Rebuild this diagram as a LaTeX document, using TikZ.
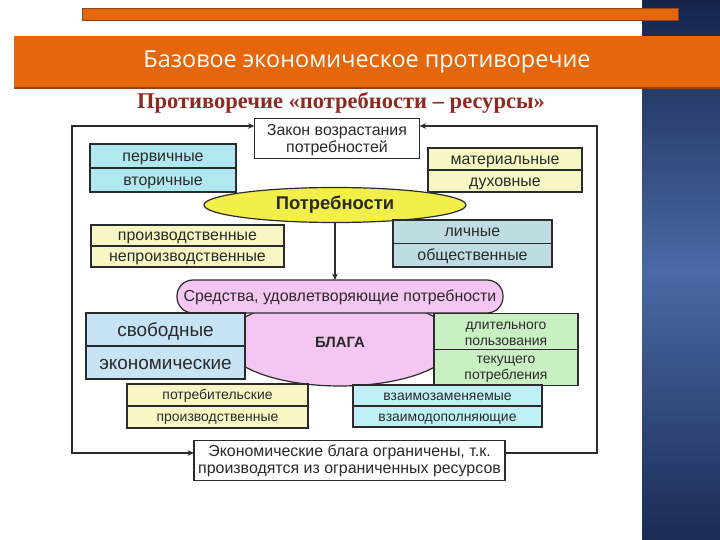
\documentclass[tikz,border=0pt]{standalone}
\usepackage{fontspec}
\setmainfont{Liberation Sans}
\newfontfamily\titlefont{Open Sans}
\newfontfamily\headfont{Liberation Serif}
\usetikzlibrary{positioning,shapes.geometric,arrows.meta}
\definecolor{lineclr}{HTML}{2B2B2B}
\definecolor{txt}{HTML}{2A2A2A}
\definecolor{orangeA}{HTML}{E5660B}
\definecolor{brownA}{HTML}{8F4416}
\definecolor{redhead}{HTML}{8E2A22}
\definecolor{navyA}{HTML}{16244A}
\definecolor{navyB}{HTML}{1B2C55}
\definecolor{blueB}{HTML}{4A69A6}
\definecolor{cyanA}{HTML}{B0E8F0}
\definecolor{yellowA}{HTML}{F8F6C4}
\definecolor{yellowB}{HTML}{F2EE4A}
\definecolor{tealA}{HTML}{BEDDE2}
\definecolor{pinkA}{HTML}{F5C6F2}
\definecolor{blueA}{HTML}{C6E4F6}
\definecolor{greenA}{HTML}{C9F0C2}
\definecolor{cyanB}{HTML}{BFF0F6}
\begin{document}
\begin{tikzpicture}[x=1bp,y=-1bp,
  >={Stealth[length=6.5bp,width=5.5bp]},
  cell/.style={draw=lineclr, line width=1.2bp, outer sep=0pt, inner sep=0pt,
    text=txt, font=\fontsize{16}{17}\selectfont, text height=11.5bp, text depth=1bp},
  two/.style={align=center, text height=, text depth=},
  small/.style={font=\fontsize{14}{16}\selectfont, text height=10.5bp, text depth=1.1bp},
  smalltwo/.style={font=\fontsize{14}{16}\selectfont, align=center, text height=27.5bp, text depth=},
  big/.style={font=\fontsize{19}{20}\selectfont, text height=15bp, text depth=1bp},
  oval/.style={ellipse, draw=lineclr, line width=1.2bp, inner sep=0pt, text=txt},
  wire/.style={draw=lineclr, line width=1.2bp}]
\useasboundingbox (0,0) rectangle (720,540);
\fill[white] (0,0) rectangle (720,540);
\shade[top color=navyA, bottom color=navyB, middle color=blueB] (642,0) rectangle (720,540);
% header bars
\draw[fill=orangeA, draw=brownA, line width=1bp] (82,9) rectangle (678,21);
\node[fill=orangeA, minimum width=706bp, minimum height=52bp, inner sep=0pt,
  text=white, font=\titlefont\fontsize{23.5}{25}\selectfont] (title) at (367,62)
  {Базовое экономическое противоречие};
\draw[brownA, line width=2bp] (title.south west) -- (title.south east);
\node[text=redhead, font=\headfont\bfseries\fontsize{22.6}{24}\selectfont] (head) at (341,103)
  {Противоречие «потребности – ресурсы»};
% needs
\node[cell, two, text height=32bp, fill=white, minimum width=165bp, minimum height=40bp] (zakon) at (337,138.5)
  {Закон возрастания\\потребностей};
\node[cell, fill=cyanA, minimum width=146bp, minimum height=24bp] (perv) at (163,156) {первичные};
\node[cell, fill=cyanA, minimum width=146bp, minimum height=24bp, below=0pt of perv] (vtor) {вторичные};
\node[cell, fill=yellowA, minimum width=154bp, minimum height=22bp] (mat) at (505,159) {материальные};
\node[cell, fill=yellowA, minimum width=154bp, minimum height=22bp, below=0pt of mat] (duh) {духовные};
\node[oval, fill=yellowB, minimum width=262bp, minimum height=35bp,
  font=\bfseries\fontsize{18.5}{19}\selectfont] (potr) at (335,205) {Потребности};
\node[cell, fill=yellowA, minimum width=193bp, minimum height=21bp] (proizv) at (187.5,235.5) {производственные};
\node[cell, fill=yellowA, minimum width=193bp, minimum height=21bp, below=0pt of proizv] (neproizv) {непроизводственные};
\node[cell, fill=tealA, minimum width=159bp, minimum height=23.5bp] (lich) at (472.5,231.75) {личные};
\node[cell, fill=tealA, minimum width=159bp, minimum height=23.5bp, below=0pt of lich] (obsh) {общественные};
% goods
\node[oval, fill=pinkA, minimum width=230bp, minimum height=88bp,
  font=\bfseries\fontsize{15}{16}\selectfont] (blaga) at (340,342) {БЛАГА};
\node[cell, fill=pinkA, rounded corners=16bp, minimum width=326bp, minimum height=33bp] (sredstva) at (340,296.5)
  {Средства, удовлетворяющие потребности};
\node[cell, big, fill=blueA, minimum width=159bp, minimum height=33bp] (svob) at (165.5,329.5) {свободные};
\node[cell, big, fill=blueA, minimum width=159bp, minimum height=33bp, below=0pt of svob] (ekon) {экономические};
\node[cell, smalltwo, fill=greenA, minimum width=144bp, minimum height=36bp] (dlit) at (506,331.5) {длительного\\пользования};
\node[cell, smalltwo, fill=greenA, minimum width=144bp, minimum height=36bp, below=0pt of dlit] (tek) {текущего\\потребления};
\node[cell, small, fill=yellowA, minimum width=181bp, minimum height=22bp] (potreb) at (217.5,395) {потребительские};
\node[cell, small, fill=yellowA, minimum width=181bp, minimum height=22bp, below=0pt of potreb] (proizvb) {производственные};
\node[cell, small, fill=cyanB, minimum width=189bp, minimum height=21bp] (zamen) at (447.5,395.5) {взаимозаменяемые};
\node[cell, small, fill=cyanB, minimum width=189bp, minimum height=21bp, below=0pt of zamen] (dopoln) {взаимодополняющие};
\node[cell, two, fill=white, minimum width=311bp, minimum height=40bp] (econ) at (349.5,460.5)
  {Экономические блага ограничены, т.к.\\производятся из ограниченных ресурсов};
% loop
\coordinate (lt) at (72,126);
\coordinate (lb) at (72,453);
\coordinate (rt) at (597,126);
\coordinate (rb) at (597,453);
\draw[wire, <->] (lt -| zakon.west) -- (lt) -- (lb) -- (lb -| econ.west);
\draw[wire, ->] (rb -| econ.east) -- (rb) -- (rt) -- (rt -| zakon.east);
\draw[wire, ->] (potr.south) -- (potr.south |- sredstva.north);
\end{tikzpicture}
\end{document}
